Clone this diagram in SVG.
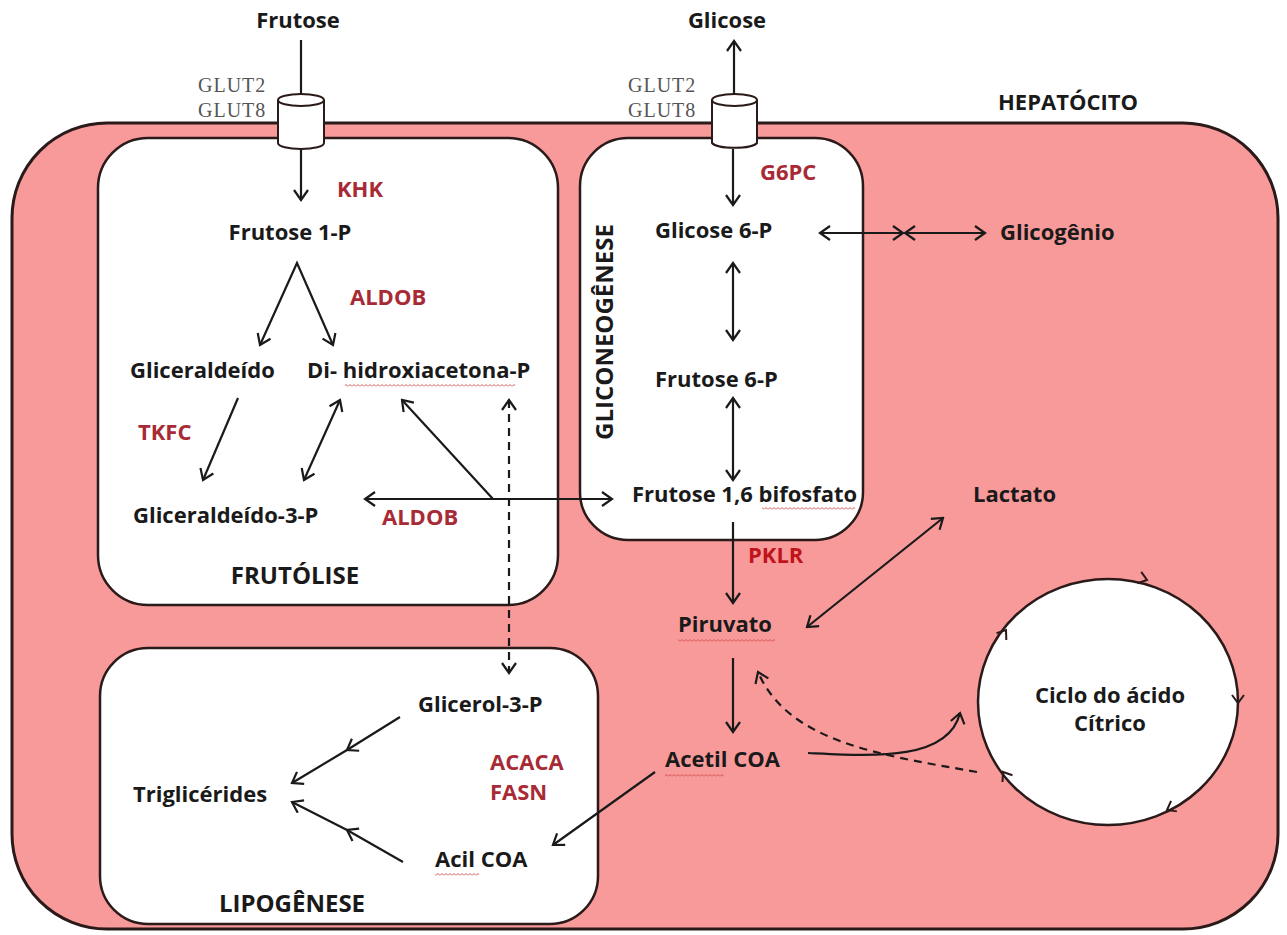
<svg xmlns="http://www.w3.org/2000/svg" width="1287" height="935" viewBox="0 0 1287 935">
<defs>
<style>
.t{font-family:"Open Sans","Liberation Sans",sans-serif;font-weight:bold;font-size:22px;fill:#1a1a1a}
.e{font-family:"Open Sans","Liberation Sans",sans-serif;font-weight:bold;font-size:22px;fill:#a82a35}
.big{font-size:24px}
.g{font-family:"Liberation Serif",serif;font-size:20px;letter-spacing:1px;fill:#555}
.ln{fill:none;stroke:#1a1a1a;stroke-width:2.2}
.box{fill:#fff;stroke:#2a1a1a;stroke-width:2.5}
.dash{stroke-dasharray:8,6}
</style>
<marker id="ah" viewBox="-12 -8 14 16" markerWidth="14" markerHeight="16" refX="0" refY="0" orient="auto" markerUnits="userSpaceOnUse">
<path d="M-10,-7 L0,0 L-10,7" fill="none" stroke="#1a1a1a" stroke-width="2.2"/>
</marker>
<marker id="as" viewBox="-12 -8 14 16" markerWidth="14" markerHeight="16" refX="0" refY="0" orient="auto-start-reverse" markerUnits="userSpaceOnUse">
<path d="M-10,-7 L0,0 L-10,7" fill="none" stroke="#1a1a1a" stroke-width="2.2"/>
</marker>
<pattern id="wave" width="4" height="3" patternUnits="userSpaceOnUse">
<path d="M0,2.5 L2,0.5 L4,2.5" fill="none" stroke="#d04545" stroke-width="0.9"/>
</pattern>
</defs>
<rect width="1287" height="935" fill="#fff"/>
<g id="cell">
<rect x="12" y="123" width="1266" height="806" rx="95" fill="#f99a9a" stroke="#2a1a1a" stroke-width="3"/>
<text class="t" x="1068" y="110" text-anchor="middle">HEPATÓCITO</text>
</g>
<g id="frutolise">
<rect class="box" x="98" y="138" width="460" height="467" rx="50"/>
<text class="t big" x="295" y="584" text-anchor="middle">FRUTÓLISE</text>
</g>
<g id="gliconeogenese">
<rect class="box" x="580" y="138" width="283" height="402" rx="48"/>
<text class="t big" transform="translate(613,332) rotate(-90)" text-anchor="middle">GLICONEOGÊNESE</text>
</g>
<g id="lipogenese">
<rect class="box" x="100" y="648" width="498" height="276" rx="48"/>
<text class="t big" x="292" y="912" text-anchor="middle">LIPOGÊNESE</text>
</g>
<g id="ciclo">
<ellipse cx="1108" cy="702" rx="130" ry="123" fill="#fff" stroke="#2a1a1a" stroke-width="2.5"/>
<g fill="none" stroke="#2a1a1a" stroke-width="2">
<path d="M-8,-6 L0,0 L-8,6" transform="translate(1147,580) rotate(18)"/>
<path d="M-8,-6 L0,0 L-8,6" transform="translate(1238,703) rotate(90)"/>
<path d="M-8,-6 L0,0 L-8,6" transform="translate(1167,810) rotate(151)"/>
<path d="M-8,-6 L0,0 L-8,6" transform="translate(1003,772) rotate(236)"/>
<path d="M-8,-6 L0,0 L-8,6" transform="translate(1006,630) rotate(305)"/>
</g>
<text class="t" x="1110" y="703" text-anchor="middle">Ciclo do ácido</text>
<text class="t" x="1110" y="731" text-anchor="middle">Cítrico</text>
</g>
<g id="transporter-frutose">
<path d="M278,100 L278,143 A23,6 0 0 0 324,143 L324,100" fill="#fff" stroke="#2a1a1a" stroke-width="2"/>
<ellipse cx="301" cy="100" rx="23" ry="6" fill="#fff" stroke="#2a1a1a" stroke-width="2"/>
<text class="g" x="198" y="92">GLUT2</text>
<text class="g" x="198" y="117">GLUT8</text>
</g>
<g id="transporter-glicose">
<path d="M712,100 L712,143 A23,6 0 0 0 757,143 L757,100" fill="#fff" stroke="#2a1a1a" stroke-width="2"/>
<ellipse cx="734.5" cy="100" rx="22.5" ry="6" fill="#fff" stroke="#2a1a1a" stroke-width="2"/>
<text class="g" x="628" y="92">GLUT2</text>
<text class="g" x="628" y="117">GLUT8</text>
</g>
<g id="labels">
<text class="t" x="298" y="28" text-anchor="middle">Frutose</text>
<text class="t" x="727" y="28" text-anchor="middle">Glicose</text>
<text class="e" x="337" y="197">KHK</text>
<text class="t" x="290" y="240" text-anchor="middle">Frutose 1-P</text>
<text class="e" x="350" y="305">ALDOB</text>
<text class="t" x="130" y="378">Gliceraldeído</text>
<text class="t" x="307" y="378">Di- hidroxiacetona-P</text>
<text class="e" x="138" y="440">TKFC</text>
<text class="t" x="133" y="523">Gliceraldeído-3-P</text>
<text class="e" x="382" y="525">ALDOB</text>
<text class="e" x="760" y="180">G6PC</text>
<text class="t" x="655" y="238">Glicose 6-P</text>
<text class="t" x="1000" y="240">Glicogênio</text>
<text class="t" x="655" y="387">Frutose 6-P</text>
<text class="t" x="632" y="502">Frutose 1,6 bifosfato</text>
<text class="t" x="973" y="502">Lactato</text>
<text class="e" x="748" y="563" style="fill:#c0141c">PKLR</text>
<text class="t" x="678" y="632">Piruvato</text>
<text class="t" x="665" y="767">Acetil COA</text>
<text class="t" x="418" y="712">Glicerol-3-P</text>
<text class="e" x="490" y="770">ACACA</text>
<text class="e" x="490" y="800">FASN</text>
<text class="t" x="133" y="802">Triglicérides</text>
<text class="t" x="435" y="867">Acil COA</text>
</g>
<g id="squiggles" fill="url(#wave)">
<rect x="345" y="384" width="170" height="3"/>
<rect x="762" y="507" width="93" height="3"/>
<rect x="678" y="639" width="97" height="3"/>
<rect x="665" y="774" width="59" height="3"/>
<rect x="435" y="873" width="44" height="3"/>
</g>
<g id="connectors">
<line class="ln" x1="301" y1="40" x2="301" y2="94"/>
<line class="ln" x1="301" y1="149" x2="301" y2="200" marker-end="url(#ah)"/>
<line class="ln" x1="734" y1="94" x2="734" y2="41" marker-end="url(#ah)"/>
<line class="ln" x1="733" y1="149" x2="733" y2="205" marker-end="url(#ah)"/>
<polyline class="ln" points="260,345 297,263 333,345" marker-start="url(#as)" marker-end="url(#ah)"/>
<line class="ln" x1="238" y1="398" x2="203" y2="480" marker-end="url(#ah)"/>
<line class="ln" x1="340" y1="400" x2="304" y2="480" marker-start="url(#as)" marker-end="url(#as)"/>
<line class="ln" x1="365" y1="499" x2="612" y2="499" marker-start="url(#as)" marker-end="url(#as)"/>
<line class="ln" x1="493" y1="499" x2="402" y2="400" marker-end="url(#ah)"/>
<line class="ln dash" x1="509" y1="400" x2="509" y2="673" marker-start="url(#as)" marker-end="url(#as)"/>
<line class="ln" x1="820" y1="233" x2="903" y2="233" marker-start="url(#as)" marker-end="url(#as)"/>
<line class="ln" x1="905" y1="233" x2="985" y2="233" marker-start="url(#as)" marker-end="url(#as)"/>
<line class="ln" x1="733" y1="263" x2="733" y2="340" marker-start="url(#as)" marker-end="url(#as)"/>
<line class="ln" x1="733" y1="398" x2="733" y2="480" marker-start="url(#as)" marker-end="url(#as)"/>
<line class="ln" x1="733" y1="522" x2="733" y2="603" marker-end="url(#ah)"/>
<line class="ln" x1="733" y1="658" x2="733" y2="732" marker-end="url(#ah)"/>
<line class="ln" x1="943" y1="518" x2="807" y2="627" marker-start="url(#as)" marker-end="url(#as)"/>
<path class="ln" d="M808,753 C870,756 948,762 960,713" marker-end="url(#ah)"/>
<path class="ln dash" d="M977,772 C880,755 788,742 758,672" marker-end="url(#ah)"/>
<line class="ln" x1="655" y1="772" x2="553" y2="845" marker-end="url(#ah)"/>
<polyline class="ln" points="400,717 347,750 292,783" marker-mid="url(#ah)" marker-end="url(#ah)"/>
<polyline class="ln" points="403,862 347,830 292,802" marker-mid="url(#ah)" marker-end="url(#ah)"/>
</g>
</svg>
